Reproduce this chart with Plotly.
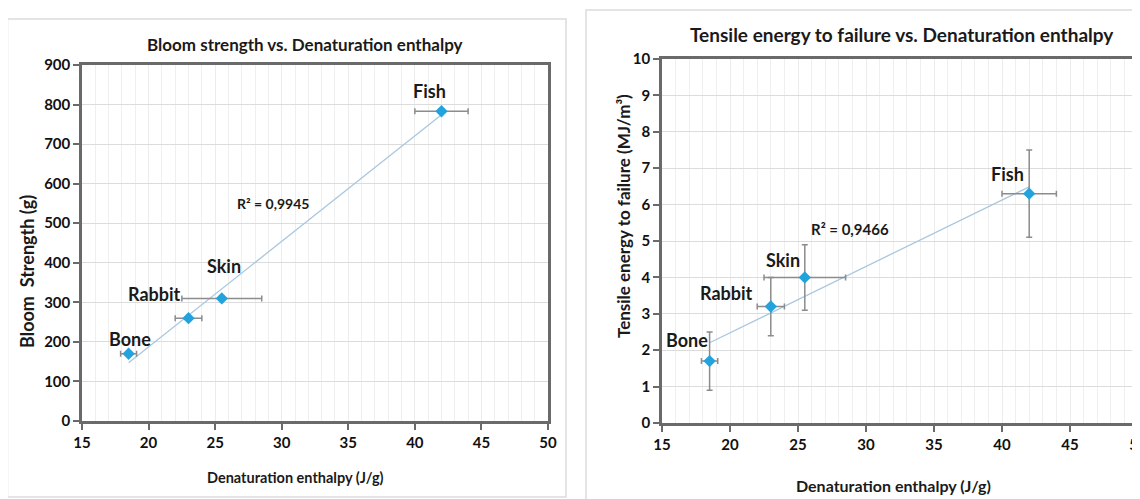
import numpy as np
import plotly.graph_objects as go

W, H = 1140, 499
OFF = 8  # page body margin

# ---------------- data ----------------
sources = ["Bone", "Rabbit", "Skin", "Fish"]
enthalpy = [18.5, 23.0, 25.5, 42.0]
enthalpy_err = [0.6, 1.0, 3.0, 2.0]

bloom = [170, 260, 310, 783]
tensile = [1.7, 3.2, 4.0, 6.3]
tensile_err = [0.8, 0.8, 0.9, 1.2]

bloom_r2 = "R² = 0,9945"
tensile_r2 = "R² = 0,9466"

x_ticks = [15, 20, 25, 30, 35, 40, 45, 50]
bloom_ticks = [0, 100, 200, 300, 400, 500, 600, 700, 800, 900]
tensile_ticks = list(range(0, 11))

# label pixel offsets (dx, dy up) per point
bloom_label_off = [(1, 15), (-34, 24), (2, 32), (-12, 20)]
tensile_label_off = [(-23, 21), (-44, 14), (-22, 17), (-22, 20)]

FONT = "Lato"
BLUE = "#23a3dd"
GREY = "#8c8c8c"
TREND = "#a9c7df"
AX = "#6a6a6a"

def px2x(px):
    return (px - OFF) / W

def px2y(py):
    return 1 - (py - OFF) / H

fig = go.Figure()

def add_panel(xa, ya, yvals, yerr):
    slope, icpt = np.polyfit(enthalpy, yvals, 1)
    xs = [min(enthalpy), max(enthalpy)]
    fig.add_trace(go.Scatter(
        x=xs, y=[slope * v + icpt for v in xs], mode="lines",
        line=dict(color=TREND, width=1.3),
        xaxis=xa, yaxis=ya, showlegend=False, hoverinfo="skip"))
    fig.add_trace(go.Scatter(
        x=enthalpy, y=yvals, mode="markers",
        marker=dict(symbol="diamond", size=9.5, color=BLUE),
        error_x=dict(type="data", array=enthalpy_err, color=GREY, thickness=1.5, width=3),
        error_y=(dict(type="data", array=yerr, color=GREY, thickness=1.5, width=3)
                 if yerr is not None else dict(visible=False)),
        xaxis=xa, yaxis=ya, showlegend=False, hoverinfo="skip"))

add_panel("x", "y", bloom, None)
add_panel("x2", "y2", tensile, tensile_err)

tickfont = dict(family=FONT, size=15, color="#111111", weight="bold")

def xaxis_cfg(dom, anchor):
    return dict(domain=dom, range=[15, 50], tickvals=x_ticks, ticks="outside",
                ticklen=6, tickwidth=2, tickcolor=AX, showline=True, linecolor=AX,
                linewidth=2.5, mirror=True, showgrid=True, gridcolor="#ececec",
                gridwidth=1, zeroline=False, tickfont=tickfont, automargin=False,
                anchor=anchor,
                minor=dict(dtick=1, showgrid=True, gridcolor="#efefef", gridwidth=1))

def yaxis_cfg(dom, rng, ticks, anchor):
    return dict(domain=dom, range=rng, tickvals=ticks, ticks="outside",
                ticklen=6, tickwidth=2, tickcolor=AX, showline=True, linecolor=AX,
                linewidth=2.5, mirror=True, showgrid=True, gridcolor="#dcdcdc",
                gridwidth=1, zeroline=False, tickfont=tickfont, automargin=False,
                anchor=anchor)

fig.update_layout(
    width=W, height=H, margin=dict(l=0, r=0, t=0, b=0, autoexpand=False),
    paper_bgcolor="white", plot_bgcolor="white",
    xaxis=xaxis_cfg([px2x(82), px2x(548)], "y"),
    yaxis=yaxis_cfg([px2y(421), px2y(65)], [0, 900], bloom_ticks, "x"),
    xaxis2=xaxis_cfg([px2x(662), min(1.0, px2x(1138))], "y2"),
    yaxis2=yaxis_cfg([px2y(423), px2y(59)], [0, 10], tensile_ticks, "x2"),
)

ann = []
def txt(x, y, text, size, xref="paper", yref="paper", angle=0, **kw):
    ann.append(dict(x=x, y=y, xref=xref, yref=yref, text=text, showarrow=False,
                    textangle=angle, xanchor="center", yanchor="middle",
                    font=dict(family=FONT, size=size, color="#1a1a1a", weight="bold"), **kw))

# titles
txt(px2x(305), px2y(45), "Bloom strength vs. Denaturation enthalpy", 17)
txt(px2x(902), px2y(34), "Tensile energy to failure vs. Denaturation enthalpy", 19)
# axis titles
txt(px2x(295), px2y(477), "Denaturation enthalpy (J/g)", 14.5)
txt(px2x(893), px2y(485), "Denaturation enthalpy (J/g)", 16)
txt(px2x(27), px2y(272), "Bloom  Strength (g)", 18, angle=-90)
txt(px2x(623), px2y(216), "Tensile energy to failure (MJ/m³)", 17, angle=-90)
# R2
txt(px2x(273), px2y(204), bloom_r2, 14)
txt(px2x(850), px2y(229), tensile_r2, 15)

# point labels
for name, xv, yv, (dx, dy) in zip(sources, enthalpy, bloom, bloom_label_off):
    txt(xv, yv, name, 18, xref="x", yref="y", xshift=dx, yshift=dy)
for name, xv, yv, (dx, dy) in zip(sources, enthalpy, tensile, tensile_label_off):
    txt(xv, yv, name, 18, xref="x2", yref="y2", xshift=dx, yshift=dy)

fig.update_layout(annotations=ann)

# chart frames
fig.update_layout(shapes=[
    dict(type="rect", xref="paper", yref="paper", x0=px2x(7.5), x1=px2x(566),
         y0=px2y(497), y1=px2y(19), line=dict(color="#dcdcdc", width=1.5)),
    dict(type="rect", xref="paper", yref="paper", x0=px2x(586), x1=px2x(1160),
         y0=px2y(520), y1=px2y(10), line=dict(color="#dcdcdc", width=1.5)),
])

fig.write_html("out.html")
